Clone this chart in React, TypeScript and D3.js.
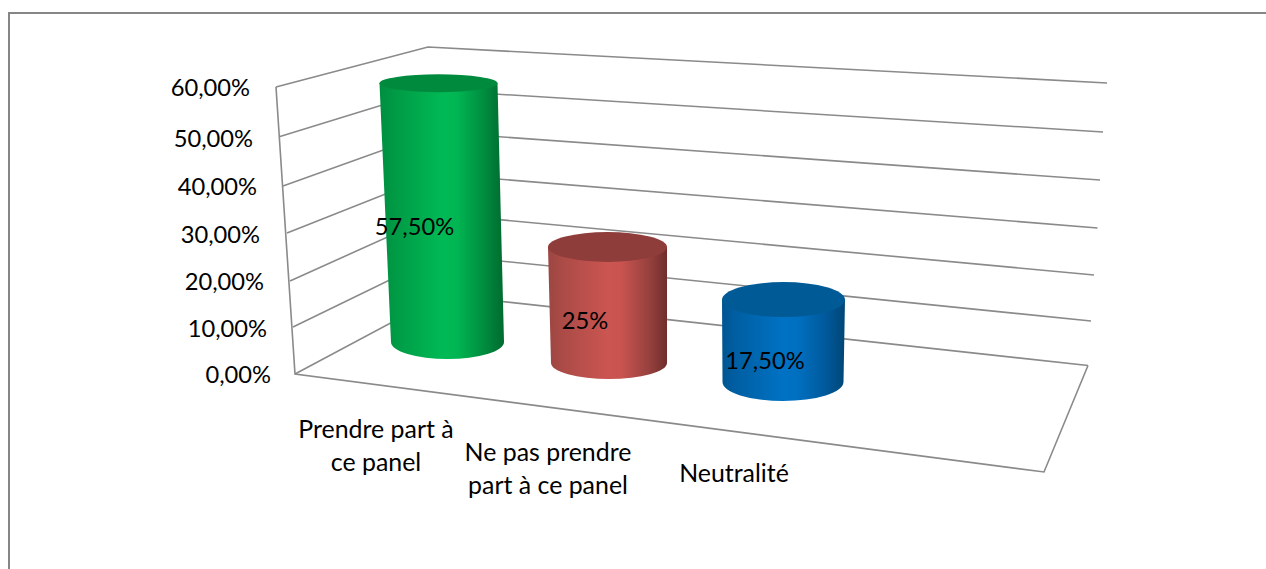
import React from "react";
import * as d3 from "d3";

const categories = [["Prendre part à", "ce panel"], ["Ne pas prendre", "part à ce panel"], ["Neutralité"]];
const values = [57.5, 25, 17.5];
const valueLabels = ["57,50%", "25%", "17,50%"];
const ticks = [0, 10, 20, 30, 40, 50, 60];
const tickLabels = ["0,00%", "10,00%", "20,00%", "30,00%", "40,00%", "50,00%", "60,00%"];

// Pseudo-3D layout: each wall corner is a scale from axis value to pixels
const frontX = d3.scaleLinear().domain(ticks).range([295, 293, 290, 287, 283, 280, 276]);
const frontY = d3.scaleLinear().domain(ticks).range([374, 327, 281, 233, 186, 136.5, 87]);
const backX = d3.scaleLinear().domain(ticks).range([443, 441, 438.5, 436, 433.5, 431, 428]);
const backY = d3.scaleLinear().domain(ticks).range([295, 255, 214, 174, 132, 90, 47]);
const rightX = d3.scaleLinear().domain(ticks).range([1088, 1091, 1094, 1097.5, 1100, 1103, 1107]);
const rightY = d3.scaleLinear().domain(ticks).range([365.5, 321, 275, 228, 180, 132, 83]);
const floorFront = { x: 1044, y: 472 };

const tickRight = d3.scaleLinear().domain(ticks).range([271, 267, 264, 260, 257, 253, 250]);
const tickY = d3.scaleLinear().domain(ticks).range([374, 328, 281, 234, 186, 138, 86.5]);

// Cylinder geometry by category position
const idx = [0, 1, 2];
const baseX = d3.scaleLinear().domain(idx).range([447.5, 609, 783]);
const baseY = d3.scaleLinear().domain(idx).range([342, 363, 382]);
const pxPerUnit = d3.scaleLinear().domain(idx).range([4.5, 4.64, 4.71]);
const topShift = d3.scaleLinear().domain(idx).range([-9, -1.5, 0.5]);
const rxBottom = d3.scaleLinear().domain(idx).range([56.5, 58, 60.5]);
const ryBottom = d3.scaleLinear().domain(idx).range([17, 16, 19]);
const rxTop = d3.scaleLinear().domain(idx).range([59, 59.5, 61.5]);
const ryTop = d3.scaleLinear().domain(idx).range([9, 15, 17.5]);
const labelX = d3.scaleLinear().domain(idx).range([414.5, 585, 765]);
const labelY = d3.scaleLinear().domain(idx).range([226, 320, 360]);
const catX = d3.scaleLinear().domain(idx).range([376, 548, 734]);
const catY = d3.scaleLinear().domain(idx).range([428, 451, 472]);

const stopOffsets = [0, 0.12, 0.5, 0.62, 0.85, 1];
const sideStops = [
  ["#008e40", "#009a45", "#00b955", "#00b653", "#008a3e", "#006a2f"],
  ["#9c4642", "#ab4b47", "#cb5551", "#c8534f", "#96413e", "#6f2e2b"],
  ["#005592", "#005fa3", "#0072c4", "#006fbf", "#00589a", "#004676"],
];
const capFill = ["#008a3e", "#8f3d3a", "#005a96"];

const line = d3.line<[number, number]>();
const font = "Lato, Carlito, sans-serif";

function cylinderPath(i: number) {
  const bx = baseX(i), by = baseY(i);
  const tx = bx + topShift(i), ty = by - values[i] * pxPerUnit(i);
  const rt = rxTop(i), rb = rxBottom(i), ryb = ryBottom(i);
  return {
    side: `M${tx - rt},${ty} L${bx - rb},${by} A${rb},${ryb} 0 0 0 ${bx + rb},${by} L${tx + rt},${ty} Z`,
    tx, ty,
  };
}

export default function App() {
  return (
    <svg width={1266} height={569} style={{ position: "absolute", left: 0, top: 0, background: "#fff" }}>
      <defs>
        {sideStops.map((s, i) => (
          <linearGradient key={i} id={`side${i}`} x1="0" x2="1" y1="0" y2="0">
            {s.map((c, k) => (
              <stop key={k} offset={stopOffsets[k]} stopColor={c} />
            ))}
          </linearGradient>
        ))}
      </defs>
      <path d="M9,569 V13 H1266" fill="none" stroke="#868686" strokeWidth={2} />
      <g fill="none" stroke="#8a8a8a" strokeWidth={1.6}>
        {ticks.map((t) => (
          <path key={t} d={line([[frontX(t), frontY(t)], [backX(t), backY(t)], [rightX(t), rightY(t)]]) as string} />
        ))}
        <path d={line([[frontX(60), frontY(60)], [frontX(0), frontY(0)], [floorFront.x, floorFront.y], [rightX(0), rightY(0)]]) as string} />
      </g>
      {values.map((_, i) => {
        const c = cylinderPath(i);
        return (
          <g key={i}>
            <path d={c.side} fill={`url(#side${i})`} />
            <ellipse cx={c.tx} cy={c.ty} rx={rxTop(i)} ry={ryTop(i)} fill={capFill[i]} />
          </g>
        );
      })}
      <g fontFamily={font} fontSize={23.7} fill="#000">
        {ticks.map((t, k) => (
          <text key={t} x={tickRight(t)} y={tickY(t)} textAnchor="end" dominantBaseline="central">{tickLabels[k]}</text>
        ))}
        {valueLabels.map((l, i) => (
          <text key={l} x={labelX(i)} y={labelY(i)} textAnchor="middle" dominantBaseline="central">{l}</text>
        ))}
      </g>
      <g fontFamily={font} fontSize={24.9} fill="#000">
        {categories.map((ls, i) =>
          ls.map((l, k) => (
            <text key={l} x={catX(i)} y={catY(i) + k * 33} textAnchor="middle" dominantBaseline="central">{l}</text>
          ))
        )}
      </g>
    </svg>
  );
}
